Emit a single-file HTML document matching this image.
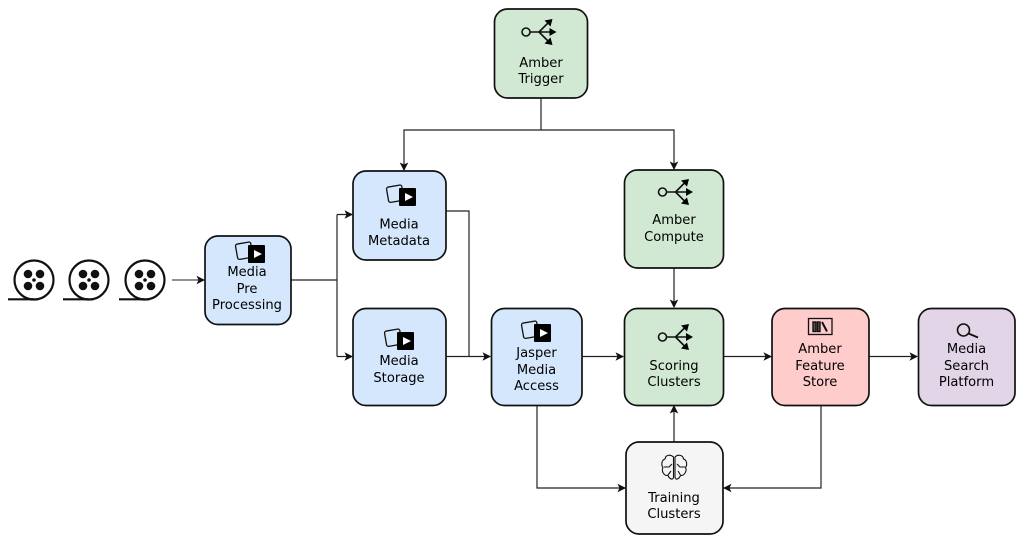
<!DOCTYPE html>
<html><head><meta charset="utf-8"><style>
html,body{margin:0;padding:0;background:#fff;width:1024px;height:543px;overflow:hidden}
svg{display:block}
text{font-family:"DejaVu Sans",sans-serif;font-size:13.1px;fill:#000;text-anchor:middle}
.b{stroke:#111;stroke-width:1.7}
.l{fill:none;stroke:#222;stroke-width:1.2}
</style></head><body>
<svg width="1024" height="543" viewBox="0 0 1024 543" xmlns="http://www.w3.org/2000/svg">
<defs>
<g id="ah"><path d="M0 0L-8.500 -4.300L-6.500 0L-8.500 4.300Z" fill="#111"/></g>
<g id="reel" fill="none"><circle cx="0" cy="0" r="19.500" stroke="#111" stroke-width="2.200" fill="#fff"/>
<g fill="#111"><circle cx="-6" cy="-6" r="4.300"/><circle cx="6" cy="-6" r="4.300"/><circle cx="-6" cy="6" r="4.300"/><circle cx="6" cy="6" r="4.300"/><circle r="1.800"/></g>
<path d="M-26 19.300H0" stroke="#111" stroke-width="2.200"/></g>
<g id="media"><rect x="-11.500" y="-9" width="15.500" height="15.500" rx="2" transform="rotate(-10 -4 -1)" fill="none" stroke="#111" stroke-width="1.300"/>
<rect x="0" y="-7" width="17" height="18" rx="1" fill="#000"/><path d="M6 -2V6L14 2Z" fill="#fff"/></g>
<g id="share" fill="none" stroke="#111" stroke-width="1.600"><circle cx="-11" cy="0" r="4"/><path d="M-7 0H15M2 0L12 -10M2 0L12 10"/>
<g fill="#000" stroke="none"><path d="M19.500 0L12.500 -4V4Z"/><path d="M15.500 -13L7.500 -11.500L13.500 -5.500Z"/><path d="M15.500 13L7.500 11.500L13.500 5.500Z"/></g></g>
</defs>

<path class="l" d="M541 98V130M404 170V130H674V169"/>
<path class="l" d="M172 280H204" stroke-opacity=".8"/>
<path class="l" d="M291 280H337M337 214.500V356.500M337 214.500H352M337 356.500H352"/>
<path class="l" d="M446 211H469V356.500M446 356.500H490"/>
<path class="l" d="M582 356.500H623"/>
<path class="l" d="M674 268V307"/>
<path class="l" d="M724 356.500H771"/>
<path class="l" d="M869 356.500H917"/>
<path class="l" d="M674 442V406"/>
<path class="l" d="M537 405V488H625"/>
<path class="l" d="M821 405V488H724"/>

<use href="#ah" x="205" y="280"/>
<use href="#ah" x="353" y="214.500"/>
<use href="#ah" x="353" y="356.500"/>
<use href="#ah" x="491" y="356.500"/>
<use href="#ah" x="624" y="356.500"/>
<use href="#ah" x="772" y="356.500"/>
<use href="#ah" x="918" y="356.500"/>
<use href="#ah" x="626" y="488"/>
<use href="#ah" transform="translate(723 488) rotate(180)"/>
<use href="#ah" transform="translate(404 171) rotate(90)"/>
<use href="#ah" transform="translate(674 170) rotate(90)"/>
<use href="#ah" transform="translate(674 308) rotate(90)"/>
<use href="#ah" transform="translate(674 405) rotate(-90)"/>

<use href="#reel" x="34" y="280"/>
<use href="#reel" x="89" y="280"/>
<use href="#reel" x="145" y="280"/>

<rect class="b" x="494.500" y="9" width="93" height="89" rx="13" fill="#d1e9d3"/>
<rect class="b" x="353" y="171" width="93" height="89" rx="13" fill="#d5e7fd"/>
<rect class="b" x="353" y="308.500" width="93" height="97" rx="13" fill="#d5e7fd"/>
<rect class="b" x="624.500" y="170" width="99" height="98" rx="13" fill="#d1e9d3"/>
<rect class="b" x="624.500" y="308.500" width="99" height="97" rx="13" fill="#d1e9d3"/>
<rect class="b" x="491.500" y="308.500" width="90.500" height="97" rx="13" fill="#d5e7fd"/>
<rect class="b" x="205" y="236" width="86" height="88.500" rx="13" fill="#d5e7fd"/>
<rect class="b" x="772" y="308.500" width="97" height="97" rx="13" fill="#ffcccc"/>
<rect class="b" x="918.500" y="308.500" width="96.500" height="97" rx="13" fill="#e1d5e7"/>
<rect class="b" x="626" y="442" width="97" height="92" rx="13" fill="#f5f5f5"/>

<use href="#share" x="537" y="32"/>
<use href="#share" x="673.500" y="192"/>
<use href="#share" x="673.500" y="337"/>
<use href="#media" x="248" y="252" />
<use href="#media" x="399" y="195"/>
<use href="#media" x="397" y="339"/>
<use href="#media" x="534" y="331"/>

<g fill="none" stroke="#111">
<rect x="808.500" y="318.500" width="23.500" height="16" stroke-width="1.300"/>
<rect x="813" y="322" width="3" height="9.500" stroke-width="1.400" fill="#555"/>
<rect x="817.500" y="322" width="2.500" height="9.500" stroke-width="1.400" fill="#555"/>
<path d="M822 322L827 331.500" stroke-width="2"/>
<circle cx="963.500" cy="330" r="6" stroke-width="1.600"/>
<path d="M968.500 333.500L978 337.500" stroke-width="1.800"/>
<g stroke-width="1.100" stroke-linejoin="round">
<path d="M673.500 457C670 454 665.500 455 665 459C661.500 460 661 465 663 467.500C661 471 664 476 668 475.500C670 480 673.500 480 673.500 477Z"/>
<path d="M675 457C678 454 683 455 683.500 459C687 460 687.500 465 685.500 467.500C687.500 471 684 476 680.500 475.500C678.500 480 675 480 675 477Z"/>
<path d="M664 467H669L672 464M685 467H680L677 464M668 475L671 471M680.500 475L678 471"/>
</g></g>

<text x="541" y="67">Amber</text><text x="541" y="83">Trigger</text>
<text x="399" y="228.500">Media</text><text x="399" y="245">Metadata</text>
<text x="399" y="365">Media</text><text x="399" y="382">Storage</text>
<text x="674" y="224">Amber</text><text x="674" y="241">Compute</text>
<text x="674" y="370">Scoring</text><text x="674" y="386">Clusters</text>
<text x="536.500" y="357">Jasper</text><text x="536.500" y="374">Media</text><text x="536.500" y="390">Access</text>
<text x="247" y="276">Media</text><text x="247" y="293">Pre</text><text x="247" y="309">Processing</text>
<text x="820" y="353">Amber</text><text x="820" y="370">Feature</text><text x="820" y="386">Store</text>
<text x="966.500" y="353">Media</text><text x="966.500" y="370">Search</text><text x="966.500" y="386">Platform</text>
<text x="674" y="502">Training</text><text x="674" y="518">Clusters</text>
</svg>
</body></html>
